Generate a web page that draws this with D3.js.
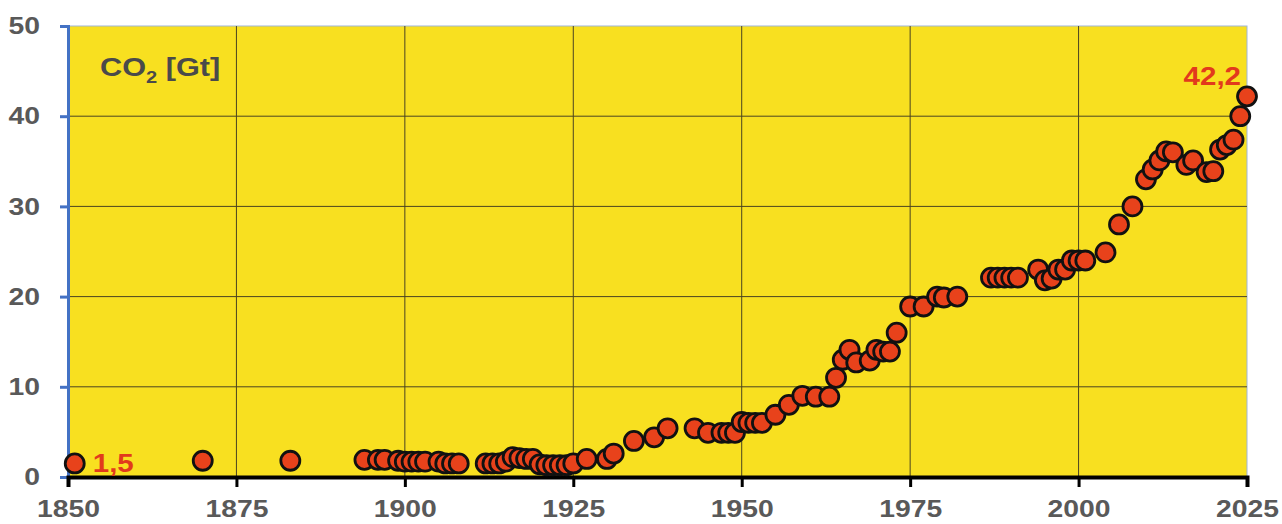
<!DOCTYPE html>
<html><head><meta charset="utf-8">
<script src="https://cdn.jsdelivr.net/npm/d3@7/dist/d3.min.js"></script>
<style>html,body{margin:0;padding:0;background:#fff;}svg{display:block;font-family:Arial,"Liberation Sans",sans-serif;}</style>
</head><body><svg id="c" width="1282" height="524"></svg>
<script>
const years = [1851,1870,1883,1894,1896,1897,1899,1900,1901,1902,1903,1905,1906,1907,1908,
1912,1913,1914,1915,1916,1917,1918,1919,1920,1921,1922,1923,1924,1925,1927,1930,1931,1934,1937,1939,
1943,1945,1947,1948,1949,1950,1951,1952,1953,1955,1957,1959,1961,1963,1964,1965,1966,1967,1969,1970,
1971,1972,1973,1975,1977,1979,1980,1982,1987,1988,1989,1990,1991,1994,1995,1996,1997,1998,1999,2000,
2001,2004,2006,2008,2010,2011,2012,2013,2014,2016,2017,2019,2020,2021,2022,2023,2024,2025];
const co2 = [1.5,1.8,1.8,1.9,1.9,1.9,1.8,1.7,1.7,1.7,1.7,1.7,1.5,1.5,1.5,
1.5,1.5,1.5,1.7,2.2,2.1,2.0,2.0,1.4,1.3,1.3,1.3,1.3,1.5,2.0,2.0,2.6,4.0,4.4,5.4,
5.4,4.9,4.9,4.9,4.9,6.1,6.0,6.0,6.0,6.9,8.0,9.0,8.9,8.9,11.0,13.0,14.1,12.7,12.9,14.1,
13.9,13.9,16.0,18.9,18.9,20.0,19.9,20.0,22.1,22.1,22.1,22.1,22.1,23.0,21.8,22.0,23.0,23.0,24.0,24.0,
24.0,24.9,28.0,30.0,33.0,34.1,35.1,36.1,36.0,34.6,35.1,33.8,33.9,36.3,36.8,37.4,40.0,42.2];
const xTicks = [1850,1875,1900,1925,1950,1975,2000,2025];
const yTicks = [0,10,20,30,40,50];
const title = "CO";
const titleSub = "2";
const titleRest = " [Gt]";
const firstLabel = "1,5";
const lastLabel = "42,2";

const SX = 1.18; // horizontal stretch of the lettering
const svg = d3.select("#c");
const L = 68, R = 1247, T = 26, B = 477;
const x = d3.scaleLinear().domain([1850, 2025]).range([L, R]);
const y = d3.scaleLinear().domain([0, 50]).range([B, T]);

svg.append("rect").attr("x", L).attr("y", T).attr("width", R - L).attr("height", B - T)
  .attr("fill", "#f8e020").attr("stroke", "#9fb6d8").attr("stroke-width", 1);

// grid
svg.append("g").selectAll("line").data(yTicks.filter(d => d > 0 && d < 50)).join("line")
  .attr("x1", L).attr("x2", R).attr("y1", d => y(d)).attr("y2", d => y(d))
  .attr("stroke", "#4a4420").attr("stroke-width", 1);
svg.append("g").selectAll("line").data(xTicks.filter(d => d > 1850 && d < 2025)).join("line")
  .attr("y1", T).attr("y2", B).attr("x1", d => x(d)).attr("x2", d => x(d))
  .attr("stroke", "#4a4420").attr("stroke-width", 1);

// y axis
const ya = svg.append("g").attr("transform", `translate(${L},0)`)
  .call(d3.axisLeft(y).tickValues(yTicks).tickSize(8).tickPadding(20));
ya.select(".domain").attr("stroke", "#4472c4").attr("stroke-width", 3);
ya.selectAll(".tick line").attr("stroke", "#4472c4").attr("stroke-width", 3);
ya.selectAll("text").attr("fill", "#595959").style("font-size", "24px").style("font-weight", "bold")
  .attr("x", -28 / SX).attr("transform", `scale(${SX},1)`);

// x axis
const xa = svg.append("g").attr("transform", `translate(0,${B})`)
  .call(d3.axisBottom(x).tickValues(xTicks).tickFormat(d3.format("d")).tickSize(10).tickPadding(13));
xa.select(".domain").attr("stroke", "#000").attr("stroke-width", 4);
xa.selectAll(".tick line").attr("stroke", "#000").attr("stroke-width", 3);
xa.selectAll("text").attr("fill", "#595959").style("font-size", "24px").style("font-weight", "bold")
  .attr("transform", `scale(${SX},1)`);

// points
const data = years.map((yr, i) => ({yr, v: co2[i]}));
svg.append("g").selectAll("circle").data(data).join("circle")
  .attr("cx", d => x(d.yr)).attr("cy", d => y(d.v)).attr("r", 9.5)
  .attr("fill", "#e8421b").attr("stroke", "#111").attr("stroke-width", 2.8);

// title
const t = svg.append("text").attr("x", 100 / SX).attr("y", 76).attr("fill", "#4a4a4a")
  .attr("transform", `scale(${SX},1)`)
  .style("font-size", "26px").style("font-weight", "bold");
t.append("tspan").text(title);
t.append("tspan").text(titleSub).attr("dy", 7).style("font-size", "17px");
t.append("tspan").text(titleRest).attr("dy", -7);

// value labels
const first = data[0], last = data[data.length - 1];
svg.append("text").attr("x", (x(first.yr) + 18) / SX).attr("y", y(first.v) + 9)
  .attr("transform", `scale(${SX},1)`)
  .attr("fill", "#e23a1c").style("font-size", "25px").style("font-weight", "bold").text(firstLabel);
svg.append("text").attr("x", (x(last.yr) - 6) / SX).attr("y", y(last.v) - 11).attr("text-anchor", "end")
  .attr("transform", `scale(${SX},1)`)
  .attr("fill", "#e23a1c").style("font-size", "25px").style("font-weight", "bold").text(lastLabel);
</script></body></html>
